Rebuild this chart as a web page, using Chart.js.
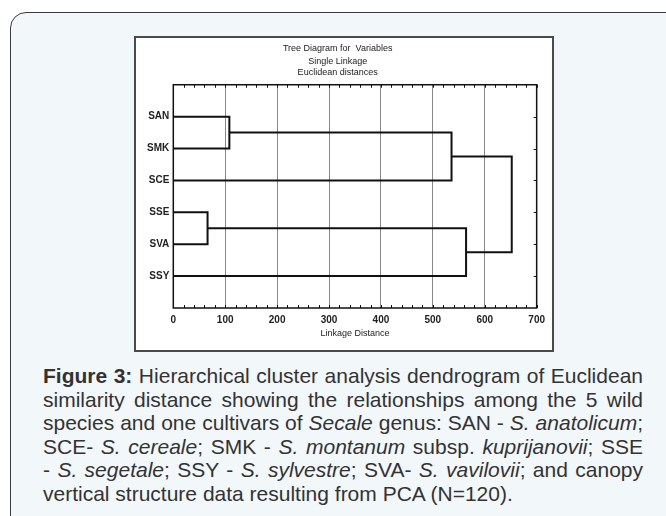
<!DOCTYPE html>
<html>
<head>
<meta charset="utf-8">
<script src="https://cdn.jsdelivr.net/npm/chart.js@4.4.1/dist/chart.umd.min.js"></script>
<style>
    html, body { margin: 0; padding: 0; background: #fff; }
    body { width: 666px; height: 516px; position: relative; overflow: hidden; font-family: "Liberation Sans", Arial, sans-serif; }
    #panel { position: absolute; left: 10px; top: 12px; width: 690px; height: 530px; box-sizing: border-box;
             border: 1.5px solid #3a3a3a; border-radius: 16px; background: #f2f7fa; }
    #chartBox { position: absolute; left: 134px; top: 36px; width: 420px; height: 316px; box-sizing: border-box;
                border: 2px solid #4a4a4a; background: #fff; }
    #chartBox canvas { display: block; }
    #caption { position: absolute; left: 43px; top: 364px; width: 600px; font-size: 21px; line-height: 23.6px; color: #333; }
    #caption div { text-align: justify; text-align-last: justify; white-space: nowrap; }
    #caption div.last { text-align-last: left; }
</style>
</head>
<body>
<div id="panel"></div>
<div id="chartBox"><canvas id="tree" width="416" height="312"></canvas></div>
<div id="caption">
    <div><b>Figure 3:</b> Hierarchical cluster analysis dendrogram of Euclidean</div>
    <div>similarity distance showing the relationships among the 5 wild</div>
    <div>species and one cultivars of <i>Secale</i> genus: SAN - <i>S. anatolicum</i>;</div>
    <div>SCE- <i>S. cereale</i>; SMK - <i>S. montanum</i> subsp. <i>kuprijanovii</i>; SSE</div>
    <div>- <i>S. segetale</i>; SSY - <i>S. sylvestre</i>; SVA- <i>S. vavilovii</i>; and canopy</div>
    <div class="last">vertical structure data resulting from PCA (N=120).</div>
</div>
<script>
(function () {
    'use strict';

    // leaves, top to bottom
    var leaves = ['SAN', 'SMK', 'SCE', 'SSE', 'SVA', 'SSY'];
    // merges: node ids 0-5 = leaves, 6+ = previous merges in order
    var mergeA    = [0, 3, 6, 7, 8];
    var mergeB    = [1, 4, 2, 5, 9];
    var mergeDist = [108, 66, 536, 564, 652];

    var xTicks        = [0, 100, 200, 300, 400, 500, 600, 700];
    var titleLines    = ['Tree Diagram for  Variables'];
    var subtitleLines = ['Single Linkage', 'Euclidean distances'];
    var xTitle        = 'Linkage Distance';

    /* ------------------------------------------------------------------
       Dendrogram segments from the merge table
    ------------------------------------------------------------------ */
    var nodes = leaves.map(function (n, i) { return { x: 0, y: i + 1 }; });
    var datasets = mergeDist.map(function (d, k) {
        var a = nodes[mergeA[k]];
        var b = nodes[mergeB[k]];
        nodes.push({ x: d, y: (a.y + b.y) / 2 });
        return {
            data: [{ x: a.x, y: a.y }, { x: d, y: a.y }, { x: d, y: b.y }, { x: b.x, y: b.y }],
            showLine   : true,
            borderColor: '#111',
            borderWidth: 2,
            pointRadius: 0,
            tension    : 0,
            clip       : false
        };
    });

    /* ------------------------------------------------------------------
       Frame + inward minor ticks
    ------------------------------------------------------------------ */
    var framePlugin = {
        id: 'frame',
        afterDatasetsDraw: function (chart) {
            var ctx = chart.ctx, a = chart.chartArea;
            var xs = chart.scales.x, ys = chart.scales.y;
            ctx.save();
            ctx.strokeStyle = '#111';
            ctx.lineWidth = 1;
            ctx.beginPath();
            for (var v = 0; v <= 700; v += 20) {
                var px = Math.round(xs.getPixelForValue(v)) + 0.5;
                ctx.moveTo(px, a.top); ctx.lineTo(px, a.top + 3);
                ctx.moveTo(px, a.bottom); ctx.lineTo(px, a.bottom - 3);
            }
            leaves.forEach(function (n, i) {
                var py = Math.round(ys.getPixelForValue(i + 1)) + 0.5;
                ctx.moveTo(a.right, py); ctx.lineTo(a.right - 3, py);
            });
            ctx.stroke();
            ctx.lineWidth = 1.5;
            ctx.strokeRect(a.left, a.top, a.right - a.left, a.bottom - a.top);
            ctx.restore();
        }
    };

    new Chart(document.getElementById('tree').getContext('2d'), {
        type: 'scatter',
        data: { datasets: datasets },
        plugins: [framePlugin],
        options: {
            responsive: false,
            animation : false,
            events    : [],
            layout    : { padding: { top: 0, right: 12.7, bottom: 11.5, left: 0 } },
            plugins   : {
                legend  : { display: false },
                tooltip : { enabled: false },
                title   : {
                    display: true, text: titleLines, color: '#222',
                    font: { family: 'Liberation Sans, Arial', size: 9, weight: 'normal', lineHeight: 1.2 },
                    padding: { top: 5, bottom: 2 }
                },
                subtitle: {
                    display: true, text: subtitleLines, color: '#222',
                    font: { family: 'Liberation Sans, Arial', size: 9, weight: 'normal', lineHeight: 1.18 },
                    padding: { top: 0.6, bottom: 7.1 }
                }
            },
            scales: {
                x: {
                    type: 'linear', min: 0, max: 700,
                    afterBuildTicks: function (s) { s.ticks = xTicks.map(function (v) { return { value: v }; }); },
                    ticks : { color: '#222', padding: 7, maxRotation: 0,
                              font: { family: 'Liberation Sans, Arial', size: 10, weight: 'bold', lineHeight: 1 } },
                    grid  : { color: '#888', lineWidth: 1, drawTicks: false },
                    border: { display: false },
                    title : { display: true, text: xTitle, color: '#222', padding: { top: -2.5, bottom: 0 },
                              font: { family: 'Liberation Sans, Arial', size: 9, lineHeight: 1 } }
                },
                y: {
                    type: 'linear', min: 0, max: 7, reverse: true,
                    afterBuildTicks: function (s) { s.ticks = leaves.map(function (n, i) { return { value: i + 1 }; }); },
                    afterFit: function (s) { s.width = 37.3; },
                    ticks : { color: '#222', padding: 4,
                              callback: function (v) { return leaves[v - 1]; },
                              font: { family: 'Liberation Sans, Arial', size: 10, weight: 'bold' } },
                    grid  : { display: false, drawTicks: false },
                    border: { display: false }
                }
            }
        }
    });
})();
</script>
</body>
</html>
